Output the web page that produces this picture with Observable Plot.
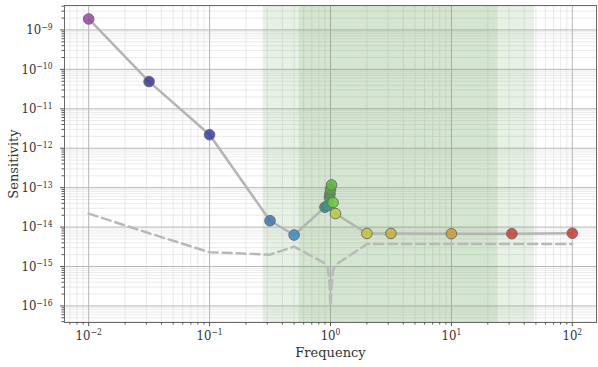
<!DOCTYPE html>
<html><head><meta charset="utf-8">
<script src="https://cdn.jsdelivr.net/npm/d3@7"></script>
<script src="https://cdn.jsdelivr.net/npm/@observablehq/plot@0.6"></script>
<style>
  body { margin: 0; background: #fff; }
  svg { font-family: "DejaVu Serif", serif; }
  .tick10 { font-stretch: condensed; font-family: "DejaVu Serif Condensed", "DejaVu Serif", serif; }
</style>
</head><body><div id="chart"></div>
<script>
// ---- data ----
const frequency   = [0.01, 0.0316, 0.1, 0.316, 0.5, 0.9, 0.95, 0.98, 0.99, 1.0, 1.02, 1.05, 1.1, 2, 3.16, 10, 31.6, 100];
const sensitivity = [1.9e-9, 4.9e-11, 2.2e-12, 1.45e-14, 6.3e-15, 3.2e-14, 3.5e-14, 5.6e-14, 6.9e-14, 9.1e-14, 1.17e-13, 4.2e-14, 2.2e-14, 6.9e-15, 6.9e-15, 6.8e-15, 6.8e-15, 7.0e-15];
const noiseFloor  = [2.2e-14, 7.0e-15, 2.3e-15, 2.0e-15, 3.2e-15, 1.2e-15, 9e-16, 4e-16, 2e-16, 1e-16, 3e-16, 8e-16, 1.1e-15, 3.7e-15, 3.7e-15, 3.7e-15, 3.7e-15, 3.7e-15];
const bandStart = [0.278, 0.55];
const bandEnd   = [48.6, 24.3];
const xTickExponents = [-2, -1, 0, 1, 2];
const yTickExponents = [-16, -15, -14, -13, -12, -11, -10, -9];

// ---- styling / scales ----
const pointColors = ["#9a48a3", "#3c3b9e", "#3a42b3", "#3a7ab2", "#3a8cc6", "#2c8a80", "#38998a", "#4a9450",
                     "#4f9b48", "#56a443", "#5cba3c", "#6ccb40", "#b6cd32", "#c6c532", "#c9b132", "#cd9b32",
                     "#cf4232", "#cf3b32"];
const xDomain = [10 ** -2.2, 10 ** 2.2];
const yDomain = [10 ** -16.42, 10 ** -8.38];

const minorOf = (exps, lo, hi) => {
  const out = [];
  for (let e = Math.min(...exps) - 1; e <= Math.max(...exps) + 1; e++)
    for (let k = 2; k <= 9; k++) { const v = k * 10 ** e; if (v >= lo && v <= hi) out.push(v); }
  return out;
};
const xMajor = xTickExponents.map(e => 10 ** e);
const yMajor = yTickExponents.map(e => 10 ** e);
const xMinor = minorOf(xTickExponents, ...xDomain);
const yMinor = minorOf(yTickExponents, ...yDomain);

const data = frequency.map((f, i) => ({ f, s: sensitivity[i], n: noiseFloor[i], i }));
const bands = bandStart.map((a, i) => ({ a, b: bandEnd[i] }));
const fmt = d => `10^${Math.round(Math.log10(d)).toString().replace("-", "\u2212")}`;

const chart = Plot.plot({
  width: 598, height: 367,
  marginLeft: 64, marginRight: 2, marginTop: 5, marginBottom: 45,
  x: { type: "log", domain: xDomain, label: null },
  y: { type: "log", domain: yDomain, label: null },
  color: { type: "ordinal", domain: d3.range(frequency.length), range: pointColors },
  style: { fontFamily: "DejaVu Serif", fontSize: "13px", color: "#333", background: "#fff" },
  marks: [
    Plot.ruleX(xMinor, { stroke: "#e3e3e3", strokeWidth: 0.8 }),
    Plot.ruleY(yMinor, { stroke: "#e6e6e6", strokeWidth: 0.8 }),
    Plot.ruleX(xMajor, { stroke: "#b6b6b6", strokeWidth: 1 }),
    Plot.ruleY(yMajor, { stroke: "#b6b6b6", strokeWidth: 1 }),
    Plot.rect(bands, { x1: "a", x2: "b", fill: "#66a258", fillOpacity: 0.15 }),
    Plot.line(data, { x: "f", y: "n", stroke: "#b9b9b9", strokeWidth: 2.5, strokeDasharray: "9,5" }),
    Plot.line(data, { x: "f", y: "s", stroke: "#b4b4b4", strokeWidth: 2.5 }),
    Plot.dot(data, { x: "f", y: "s", r: 5.3, fill: "i", fillOpacity: 0.88, stroke: "#6e6e6e", strokeWidth: 1 }),
    Plot.frame({ stroke: "#6a6a6a" }),
    Plot.axisX(xMinor, { tickSize: 2.5, tickFormat: () => "", stroke: "#555" }),
    Plot.axisY(yMinor, { tickSize: 2.5, tickFormat: () => "", stroke: "#555" }),
    Plot.axisX(xMajor, { tickSize: 4, tickPadding: 4, tickFormat: fmt, stroke: "#555", fill: "#333" }),
    Plot.axisY(yMajor, { tickSize: 4, tickPadding: 8, tickFormat: fmt, stroke: "#555", fill: "#333" }),
    Plot.text(["Frequency"], { frameAnchor: "bottom", dy: 34, textAnchor: "middle", fill: "#333", fontSize: 13 }),
    Plot.text(["Sensitivity"], { frameAnchor: "left", dx: -51, rotate: -90, textAnchor: "middle", lineAnchor: "middle", fill: "#333", fontSize: 13 })
  ]
});

// render exponents as real superscripts
const ns = "http://www.w3.org/2000/svg";
chart.querySelectorAll("text").forEach(t => {
  const m = t.textContent.match(/^10\^(.+)$/);
  if (m) {
    t.textContent = "10";
    t.classList.add("tick10");
    t.setAttribute("font-size", "13px");
    const ts = document.createElementNS(ns, "tspan");
    ts.setAttribute("dy", "-0.5em");
    ts.setAttribute("font-size", "8.5px");
    ts.textContent = m[1];
    t.appendChild(ts);
  }
});
document.getElementById("chart").appendChild(chart);
</script>
</body></html>
